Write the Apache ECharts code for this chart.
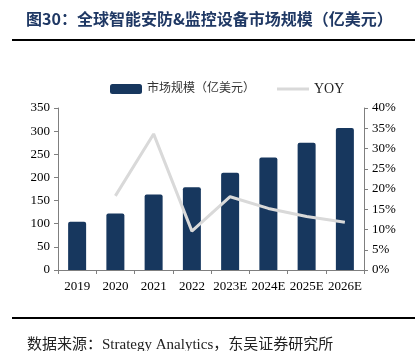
<!DOCTYPE html>
<html>
<head>
<meta charset="utf-8">
<script src="https://cdn.jsdelivr.net/npm/echarts@6/dist/echarts.min.js"></script>
<style>
  html, body { margin: 0; padding: 0; background: #fff; }
  #chart { width: 420px; height: 351px; }
</style>
</head>
<body>
<div id="chart"></div>
<script>
// 数据
const years = ['2019', '2020', '2021', '2022', '2023E', '2024E', '2025E', '2026E']
const marketSize = [104, 122, 163, 179, 210, 243, 275, 307]
const yoy = [null, 18.3, 33.6, 9.6, 18.1, 15.2, 13.2, 11.8]

const serif = '"Liberation Serif", "Noto Sans CJK SC", serif'
const cjk = '"Noto Sans CJK SC", sans-serif'

const myChart = echarts.init(document.getElementById('chart'))

myChart.setOption({
    animation: false,
    title: [
        {
            text: '图30：全球智能安防&监控设备市场规模（亿美元）',
            left: 21,
            top: 6,
            textStyle: { fontSize: 16, fontWeight: 'bold', color: '#1f3864', fontFamily: cjk }
        },
        {
            text: '数据来源：Strategy Analytics，东吴证券研究所',
            left: 22,
            top: 333,
            textStyle: { fontSize: 15, fontWeight: 'normal', color: '#222', fontFamily: serif }
        }
    ],
    graphic: [
        { type: 'line', shape: { x1: 12, y1: 40, x2: 415, y2: 40 }, style: { stroke: '#000', lineWidth: 2 } },
        { type: 'line', shape: { x1: 12, y1: 318, x2: 415, y2: 318 }, style: { stroke: '#000', lineWidth: 2 } }
    ],
    legend: {
        top: 77,
        left: 105,
        itemGap: 22,
        itemWidth: 32,
        itemHeight: 10,
        textStyle: { fontSize: 12, color: '#333', fontFamily: serif },
        data: [
            { name: '市场规模（亿美元）', icon: 'roundRect' },
            { name: 'YOY', icon: 'path://M0 0H64V6H0Z', textStyle: { fontSize: 14, color: '#222' } }
        ]
    },
    grid: { left: 58, right: 56, top: 108, bottom: 81 },
    xAxis: {
        type: 'category',
        data: years,
        axisLine: { lineStyle: { color: '#7f7f7f' } },
        axisTick: { show: true, lineStyle: { color: '#7f7f7f' }, length: 4 },
        axisLabel: { color: '#000', fontSize: 13, fontFamily: serif, margin: 10, interval: 0 }
    },
    yAxis: [
        {
            type: 'value',
            min: 0, max: 350, interval: 50,
            axisLine: { show: true, lineStyle: { color: '#7f7f7f' } },
            axisTick: { show: true, lineStyle: { color: '#7f7f7f' }, length: 4 },
            splitLine: { show: false },
            axisLabel: { color: '#000', fontSize: 13, fontFamily: serif, margin: 8 }
        },
        {
            type: 'value',
            min: 0, max: 40, interval: 5,
            axisLine: { show: true, lineStyle: { color: '#7f7f7f' } },
            axisTick: { show: true, lineStyle: { color: '#7f7f7f' }, length: 4 },
            splitLine: { show: false },
            axisLabel: { color: '#000', fontSize: 13, fontFamily: serif, margin: 8, formatter: '{value}%' }
        }
    ],
    series: [
        {
            name: '市场规模（亿美元）',
            type: 'bar',
            data: marketSize,
            barWidth: 18,
            itemStyle: { color: '#17375e', borderRadius: [2, 2, 0, 0] }
        },
        {
            name: 'YOY',
            type: 'line',
            yAxisIndex: 1,
            data: yoy,
            symbol: 'none',
            lineStyle: { color: '#d9d9d9', width: 3 },
            itemStyle: { color: '#d9d9d9' }
        }
    ]
})
</script>
</body>
</html>
